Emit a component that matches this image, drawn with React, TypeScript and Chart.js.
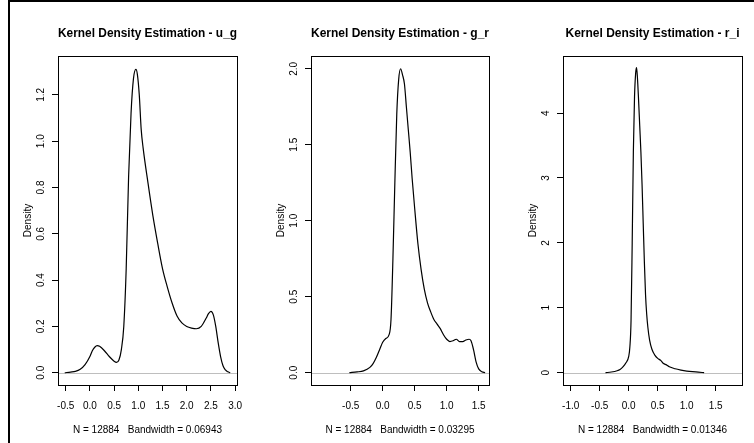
import React, { useEffect, useRef } from "react";
import { Chart, registerables } from "chart.js";

Chart.register(...registerables);

// ---------- data ----------
const TITLES = [
  "Kernel Density Estimation - u_g",
  "Kernel Density Estimation - g_r",
  "Kernel Density Estimation - r_i",
];
const SUBTITLES = [
  "N = 12884   Bandwidth = 0.06943",
  "N = 12884   Bandwidth = 0.03295",
  "N = 12884   Bandwidth = 0.01346",
];

const UG_X = [-0.52, -0.4, -0.3, -0.2, -0.1, 0.0, 0.05, 0.1, 0.15, 0.2, 0.3, 0.4, 0.5, 0.55, 0.6, 0.65, 0.7, 0.75, 0.8, 0.85, 0.9, 0.95, 0.98, 1.02, 1.06, 1.1, 1.2, 1.3, 1.4, 1.5, 1.6, 1.7, 1.8, 1.9, 2.0, 2.1, 2.2, 2.3, 2.4, 2.45, 2.5, 2.55, 2.6, 2.65, 2.7, 2.75, 2.8, 2.85, 2.9];
const UG_Y = [0.0, 0.003, 0.006, 0.015, 0.035, 0.07, 0.095, 0.11, 0.117, 0.114, 0.095, 0.07, 0.05, 0.045, 0.055, 0.1, 0.2, 0.45, 0.85, 1.12, 1.27, 1.31, 1.29, 1.2, 1.05, 0.97, 0.82, 0.68, 0.56, 0.45, 0.37, 0.3, 0.245, 0.215, 0.2, 0.193, 0.19, 0.2, 0.235, 0.255, 0.265, 0.25, 0.2, 0.13, 0.07, 0.03, 0.012, 0.004, 0.0];

const GR_X = [-0.52, -0.4, -0.3, -0.2, -0.15, -0.1, -0.05, 0.0, 0.05, 0.1, 0.13, 0.16, 0.19, 0.22, 0.25, 0.28, 0.31, 0.34, 0.37, 0.4, 0.43, 0.46, 0.5, 0.55, 0.6, 0.65, 0.7, 0.75, 0.8, 0.85, 0.9, 0.95, 1.0, 1.05, 1.1, 1.15, 1.2, 1.25, 1.3, 1.35, 1.38, 1.42, 1.46, 1.5, 1.55, 1.6];
const GR_Y = [0.0, 0.005, 0.012, 0.035, 0.06, 0.1, 0.15, 0.2, 0.225, 0.25, 0.35, 0.75, 1.25, 1.7, 1.93, 2.0, 1.96, 1.9, 1.75, 1.6, 1.45, 1.28, 1.08, 0.85, 0.68, 0.55, 0.46, 0.4, 0.35, 0.32, 0.29, 0.25, 0.22, 0.205, 0.21, 0.22, 0.205, 0.205, 0.215, 0.22, 0.21, 0.15, 0.07, 0.025, 0.006, 0.0];

const RI_X = [-0.4, -0.3, -0.2, -0.15, -0.1, -0.05, 0.0, 0.02, 0.04, 0.06, 0.08, 0.1, 0.12, 0.135, 0.15, 0.17, 0.19, 0.21, 0.23, 0.25, 0.27, 0.29, 0.31, 0.33, 0.36, 0.4, 0.45, 0.5, 0.55, 0.6, 0.65, 0.7, 0.8, 0.9, 1.0, 1.1, 1.2, 1.3];
const RI_Y = [0.0, 0.01, 0.03, 0.05, 0.09, 0.15, 0.25, 0.4, 0.8, 2.0, 3.4, 4.25, 4.62, 4.7, 4.55, 4.2, 3.8, 3.4, 2.9, 2.3, 1.7, 1.2, 0.9, 0.7, 0.5, 0.36, 0.27, 0.22, 0.19, 0.14, 0.12, 0.09, 0.06, 0.04, 0.025, 0.015, 0.008, 0.0];

const UG_XTICKS = [-0.5, 0, 0.5, 1, 1.5, 2, 2.5, 3];
const UG_YTICKS = [0, 0.2, 0.4, 0.6, 0.8, 1.0, 1.2];
const GR_XTICKS = [-0.5, 0, 0.5, 1, 1.5];
const GR_YTICKS = [0, 0.5, 1, 1.5, 2];
const RI_XTICKS = [-1, -0.5, 0, 0.5, 1, 1.5];
const RI_YTICKS = [0, 1, 2, 3, 4];

// ---------- layout ----------
const W = 754;
const H = 443;
const FONT = "'Liberation Sans', Arial, Helvetica, sans-serif";
const YW = 50; // width of y-axis box
const TITLE_CY = 34;
const TITLE_SIZE = 12;
const TICK_SIZE = 10;

type Panel = {
  xs: number[]; ys: number[]; xt: number[]; yt: number[];
  title: string; sub: string;
  box: { left: number; right: number; top: number; bottom: number };
  xlim: [number, number]; ylim: [number, number];
  yDec: number; yPad: number;
};

const PANELS: Panel[] = [
  { xs: UG_X, ys: UG_Y, xt: UG_XTICKS, yt: UG_YTICKS, title: TITLES[0], sub: SUBTITLES[0],
    box: { left: 58, right: 237, top: 56, bottom: 385 }, xlim: [-0.659, 3.039], ylim: [-0.053, 1.368], yDec: 1, yPad: 4 },
  { xs: GR_X, ys: GR_Y, xt: GR_XTICKS, yt: GR_YTICKS, title: TITLES[1], sub: SUBTITLES[1],
    box: { left: 311, right: 489, top: 56, bottom: 385 }, xlim: [-1.12, 1.661], ylim: [-0.081, 2.084], yDec: 1, yPad: 4 },
  { xs: RI_X, ys: RI_Y, xt: RI_XTICKS, yt: RI_YTICKS, title: TITLES[2], sub: SUBTITLES[2],
    box: { left: 563, right: 742, top: 56, bottom: 385 }, xlim: [-1.133, 1.953], ylim: [-0.19, 4.88], yDec: 0, yPad: 8 },
];

const framePlugin = {
  id: "rframe",
  beforeDatasetsDraw(chart: any) {
    const { ctx, chartArea, scales } = chart;
    const y0 = Math.round(scales.y.getPixelForValue(0)) + 0.5;
    ctx.save();
    ctx.strokeStyle = "#bebebe";
    ctx.lineWidth = 1;
    ctx.beginPath();
    ctx.moveTo(chartArea.left, y0);
    ctx.lineTo(chartArea.right, y0);
    ctx.stroke();
    ctx.restore();
  },
  afterDraw(chart: any) {
    const { ctx, chartArea } = chart;
    ctx.save();
    ctx.strokeStyle = "#000";
    ctx.lineWidth = 1;
    ctx.strokeRect(
      Math.round(chartArea.left) + 0.5,
      Math.round(chartArea.top) + 0.5,
      Math.round(chartArea.right - chartArea.left),
      Math.round(chartArea.bottom - chartArea.top)
    );
    ctx.restore();
  },
};

function makeChart(canvas: HTMLCanvasElement, p: Panel) {
  const XH = H - p.box.bottom;
  const tickFont = { family: FONT, size: TICK_SIZE };
  const titleTop = TITLE_CY - (TITLE_SIZE * 1.2) / 2;
  return new Chart(canvas, {
    type: "scatter",
    data: {
      datasets: [
        {
          data: p.xs.map((x, i) => ({ x, y: p.ys[i] })),
          showLine: true,
          borderColor: "#000",
          borderWidth: 1.2,
          pointRadius: 0,
          fill: false,
          cubicInterpolationMode: "monotone",
        } as any,
      ],
    },
    options: {
      responsive: false,
      animation: false,
      devicePixelRatio: 1,
      events: [],
      layout: { padding: { left: p.box.left - YW, right: W - p.box.right, top: 0, bottom: 0 } },
      plugins: {
        legend: { display: false },
        tooltip: { enabled: false },
        title: {
          display: true,
          text: p.title,
          fullSize: false,
          color: "#000",
          font: { family: FONT, size: TITLE_SIZE, weight: "bold" },
          padding: { top: titleTop, bottom: p.box.top - titleTop - TITLE_SIZE * 1.2 },
        } as any,
      },
      scales: {
        x: {
          type: "linear",
          min: p.xlim[0],
          max: p.xlim[1],
          afterBuildTicks: (s: any) => { s.ticks = p.xt.map((v) => ({ value: v })); },
          afterFit: (s: any) => { s.height = XH; },
          grid: { display: true, drawOnChartArea: false, drawTicks: true, tickLength: 6, color: "#000", lineWidth: 1 },
          border: { display: false },
          ticks: {
            color: "#000", font: tickFont, padding: 9, minRotation: 0, maxRotation: 0, autoSkip: false,
            callback: (v: any) => Number(v).toFixed(1),
          },
          title: { display: true, text: p.sub, color: "#000", font: tickFont, padding: { top: 0, bottom: 7 } },
        },
        y: {
          type: "linear",
          min: p.ylim[0],
          max: p.ylim[1],
          afterBuildTicks: (s: any) => { s.ticks = p.yt.map((v) => ({ value: v })); },
          afterFit: (s: any) => { s.width = YW; },
          grid: { display: true, drawOnChartArea: false, drawTicks: true, tickLength: 6, color: "#000", lineWidth: 1 },
          border: { display: false },
          ticks: {
            color: "#000", font: tickFont, padding: p.yPad, minRotation: 90, maxRotation: 90,
            crossAlign: "center", autoSkip: false,
            callback: (v: any) => Number(v).toFixed(p.yDec),
          },
          title: { display: true, text: "Density", color: "#000", font: tickFont, padding: { top: 14.5, bottom: 0 } },
        },
      },
    } as any,
    plugins: [framePlugin],
  });
}

export default function App() {
  const refs = [useRef<HTMLCanvasElement>(null), useRef<HTMLCanvasElement>(null), useRef<HTMLCanvasElement>(null)];
  useEffect(() => {
    const charts = PANELS.map((p, i) => makeChart(refs[i].current as HTMLCanvasElement, p));
    return () => charts.forEach((c) => c.destroy());
  }, []);
  return (
    <div style={{ position: "fixed", left: 0, top: 0, width: W, height: H, background: "#fff", overflow: "hidden" }}>
      {refs.map((r, i) => (
        <canvas key={i} ref={r} width={W} height={H} style={{ position: "absolute", left: 0, top: 0, width: W, height: H }} />
      ))}
      <div style={{ position: "absolute", left: 8, top: 0, width: W - 8, height: H, borderLeft: "2px solid #000", borderTop: "2px solid #000", boxSizing: "border-box", pointerEvents: "none" }} />
    </div>
  );
}
